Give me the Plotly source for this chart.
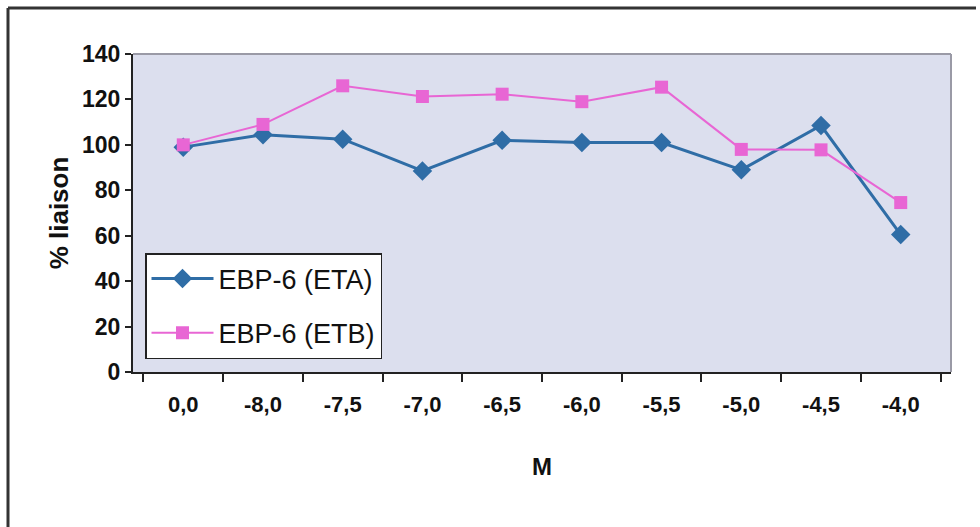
import plotly.graph_objects as go

categories = ["0,0", "-8,0", "-7,5", "-7,0", "-6,5", "-6,0", "-5,5", "-5,0", "-4,5", "-4,0"]
eta_values = [99, 104.5, 102.5, 88.5, 102, 101, 101, 89, 108.5, 60.5]
etb_values = [100, 109, 126, 121.3, 122.3, 119, 125.4, 98, 97.8, 74.6]
y_ticks = [0, 20, 40, 60, 80, 100, 120, 140]

FONT = "Liberation Sans, Arial"

L, R, T, B = 133, 29, 54, 155
W, H = 980, 527
pw, ph = W - L - R, H - T - B

def px(x):
    return (x - L) / pw

def py(y):
    return (H - B - y) / ph

fig = go.Figure()
fig.add_trace(go.Scatter(
    x=categories, y=eta_values, name="EBP-6 (ETA)", mode="lines+markers",
    line=dict(color="#2f6da6", width=3),
    marker=dict(symbol="diamond", size=15, color="#2f6da6"),
    legendgroup="a",
))
fig.add_trace(go.Scatter(
    x=categories, y=etb_values, name="EBP-6 (ETB)", mode="lines+markers",
    line=dict(color="#e866d4", width=2),
    marker=dict(symbol="square", size=13, color="#e866d4"),
    legendgroup="b",
))

fig.update_layout(
    width=W, height=H,
    margin=dict(l=L, r=R, t=T, b=B, autoexpand=False),
    paper_bgcolor="white",
    plot_bgcolor="#dcdfee",
    font=dict(family=FONT, size=24, color="#111111"),
    showlegend=True,
    legend=dict(
        x=px(145), y=py(253), xanchor="left", yanchor="top",
        bgcolor="white", bordercolor="#222222", borderwidth=1.5,
        font=dict(family=FONT, size=27, color="#111111"),
        traceorder="grouped", tracegroupgap=16,
        itemwidth=62,
    ),
    xaxis=dict(
        type="category",
        tickson="boundaries",
        ticks="outside", ticklen=8, tickwidth=1.5, tickcolor="#222222",
        showline=True, linecolor="#222222", linewidth=2,
        showgrid=False, zeroline=False, automargin=False,
        ticklabelstandoff=12,
        tickfont=dict(family=FONT, size=22, color="#111111", weight="bold"),
        title=dict(text="M", font=dict(family=FONT, size=24, color="#111111", weight="bold"), standoff=42),
    ),
    yaxis=dict(
        range=[0, 140], tickvals=y_ticks,
        ticks="outside", ticklen=6, tickwidth=1.5, tickcolor="#222222",
        showline=True, linecolor="#222222", linewidth=2,
        showgrid=False, zeroline=False, automargin=False,
        tickfont=dict(family=FONT, size=23, color="#111111", weight="bold"),
        title=dict(text="% liaison", font=dict(family=FONT, size=26, color="#111111", weight="bold"), standoff=6),
    ),
)

# plot area top/right edges (gray)
fig.add_shape(type="line", xref="paper", yref="paper", x0=0, x1=1, y0=1, y1=1,
              line=dict(color="#9a9aa6", width=2))
fig.add_shape(type="line", xref="paper", yref="paper", x0=1, x1=1, y0=0, y1=1,
              line=dict(color="#9a9aa6", width=2))
# outer frame lines
fig.add_shape(type="line", xref="paper", yref="paper", x0=px(8), x1=px(976), y0=py(8), y1=py(8),
              line=dict(color="#333333", width=3))
fig.add_shape(type="line", xref="paper", yref="paper", x0=px(8), x1=px(8), y0=py(8), y1=py(527),
              line=dict(color="#333333", width=3))

fig.write_html("out.html")
